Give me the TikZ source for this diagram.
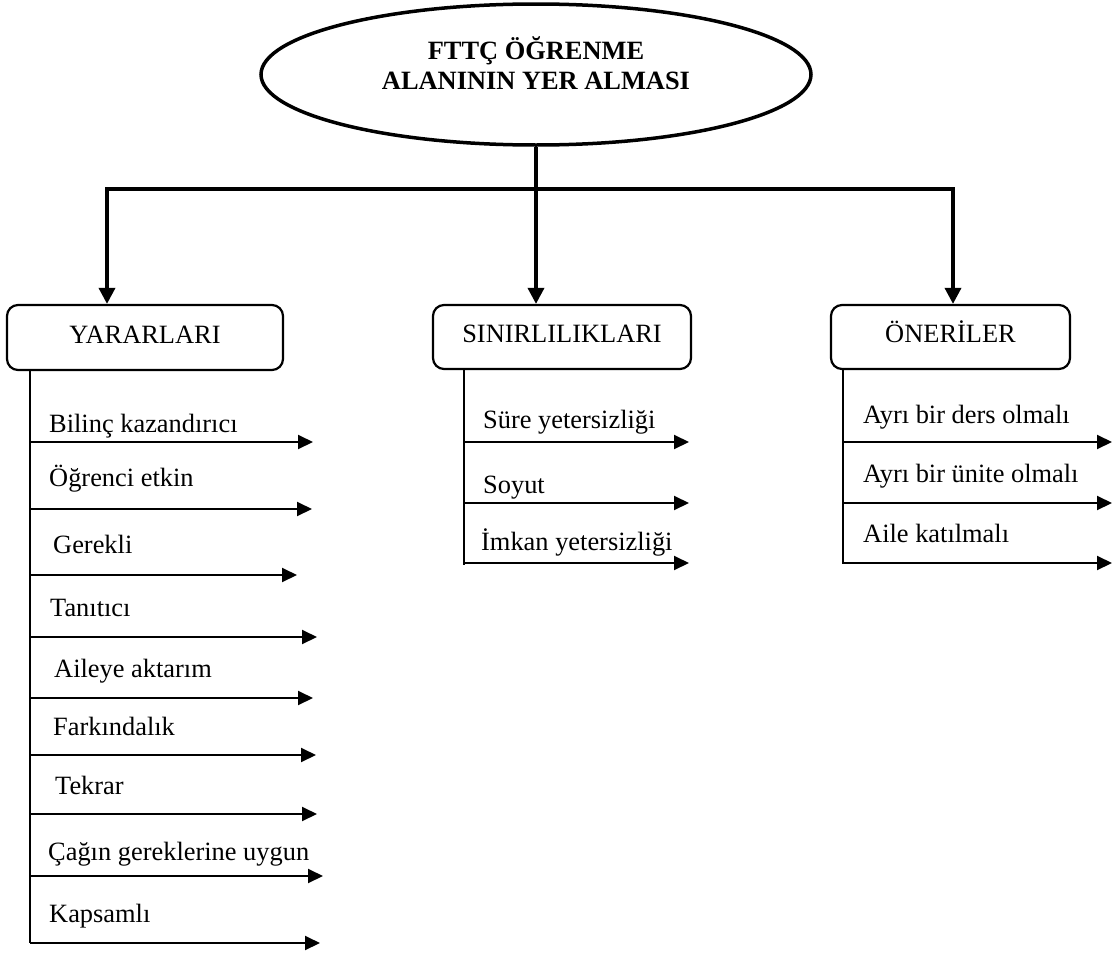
\documentclass[tikz,border=0pt]{standalone}
\usepackage{fontspec}
\setmainfont{Liberation Serif}
\usetikzlibrary{shapes.geometric,arrows.meta}

\tikzset{
  heavy/.style={line width=3.5pt},
  heavyarrow/.style={heavy, -{Triangle[length=16pt,width=16pt]}},
  itemarrow/.style={line width=2pt, -{Triangle[length=15pt,width=14pt]}},
  trunk/.style={line width=2pt},
  headbox/.style={draw, line width=2.2pt, rounded corners=11pt,
    inner sep=0pt, text height=18pt, text depth=7pt,
    font=\fontsize{26.4}{30}\selectfont},
  item/.style={inner sep=0pt, anchor=base west,
    font=\fontsize{26.4}{30}\selectfont},
}

\begin{document}
\begin{tikzpicture}[x=1pt, y=-1pt]
  \useasboundingbox (0,0) rectangle (1117,953);

  % top ellipse and its title
  \node[ellipse, draw, line width=3.5pt, minimum width=550pt, minimum height=141pt,
        inner sep=0pt] (title) at (536,74.5) {};
  \node[align=center, inner sep=0pt,
        font=\bfseries\fontsize{26.4}{30}\selectfont] (titletext) at (536,63.5)
        {FTTÇ ÖĞRENME\\ALANININ YER ALMASI};

  % three headings
  \node[headbox, minimum width=276pt, minimum height=65pt] (yarar) at (145,337.5) {YARARLARI};
  \node[headbox, minimum width=258pt, minimum height=64pt] (sinir) at (562,337) {SINIRLILIKLARI};
  \node[headbox, minimum width=239pt, minimum height=64pt] (oneri) at (950.5,337) {ÖNERİLER};

  % branching bar
  \coordinate (jL) at (107,189);
  \coordinate (jM) at (536,189);
  \coordinate (jR) at (953,189);
  \draw[heavy] (title.south) -- (jM);
  \draw[heavy, line cap=rect] (jL) -- (jR);
  \draw[heavyarrow] (jL) -- (yarar.north -| jL);
  \draw[heavyarrow] (jM) -- (sinir.north -| jM);
  \draw[heavyarrow] (jR) -- (oneri.north -| jR);

  % left column: benefits
  \coordinate (Ltop) at (30,370);
  \coordinate (Lbot) at (30,943);
  \draw[trunk] (Ltop) -- (Lbot);
  \foreach \n/\y/\tip/\tx/\ty/\txt in {
      1/442/313/49/432/{Bilinç kazandırıcı},
      2/509/312/49/486/{Öğrenci etkin},
      3/575/297/53/553/{Gerekli},
      4/637/317/50/616/{Tanıtıcı},
      5/698/313/54/677/{Aileye aktarım},
      6/755/316/53/735/{Farkındalık},
      7/814/317/55/794/{Tekrar},
      8/876/323/48/860/{Çağın gereklerine uygun},
      9/943/320/49/922/{Kapsamlı}} {
    \coordinate (L\n s) at (30,\y);
    \coordinate (L\n e) at (\tip,\y);
    \node[item] (L\n t) at (\tx,\ty) {\txt};
    \draw[itemarrow] (L\n s) -- (L\n e);
  }

  % middle column: limitations
  \coordinate (Mtop) at (464,369);
  \coordinate (Mbot) at (464,565);
  \draw[trunk] (Mtop) -- (Mbot);
  \foreach \n/\y/\tx/\ty/\txt in {
      1/442/483/428/{Süre yetersizliği},
      2/503/483/493/{Soyut},
      3/563/481/550/{İmkan yetersizliği}} {
    \coordinate (M\n s) at (464,\y);
    \coordinate (M\n e) at (689,\y);
    \node[item] (M\n t) at (\tx,\ty) {\txt};
    \draw[itemarrow] (M\n s) -- (M\n e);
  }

  % right column: suggestions
  \coordinate (Rtop) at (843,369);
  \coordinate (Rbot) at (843,564);
  \draw[trunk] (Rtop) -- (Rbot);
  \foreach \n/\y/\ty/\txt in {
      1/442/423/{Ayrı bir ders olmalı},
      2/503/482/{Ayrı bir ünite olmalı},
      3/563/542/{Aile katılmalı}} {
    \coordinate (R\n s) at (843,\y);
    \coordinate (R\n e) at (1112,\y);
    \node[item] (R\n t) at (863,\ty) {\txt};
    \draw[itemarrow] (R\n s) -- (R\n e);
  }
\end{tikzpicture}
\end{document}
